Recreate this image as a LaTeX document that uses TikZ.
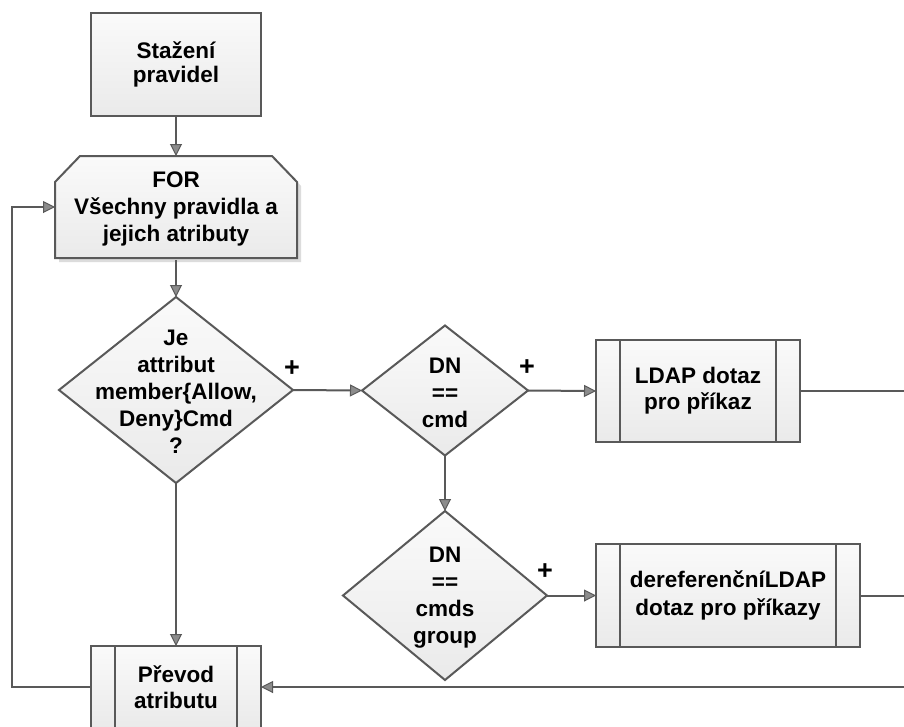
\documentclass[tikz,border=0pt]{standalone}
\usepackage{fontspec}
\setmainfont{Liberation Sans}
\usetikzlibrary{arrows.meta,shapes.geometric}

\definecolor{linegray}{HTML}{595959}
\definecolor{filltop}{HTML}{FAFAFA}
\definecolor{fillbot}{HTML}{EAEAEA}
\definecolor{tipfill}{HTML}{8C8C8C}
\definecolor{shadowgray}{HTML}{DCDCDC}

\tikzset{
  every node/.style={outer sep=0pt, inner sep=0pt, align=center,
    font=\bfseries\fontsize{22.5}{26}\selectfont},
  shaded/.style={draw=linegray, line width=2pt, top color=filltop, bottom color=fillbot},
  procbox/.style={shaded, rectangle},
  decision/.style={shaded, diamond},
  conn/.style={draw=linegray, line width=2pt},
  arr/.style={conn, -{Triangle[length=12pt,width=12pt,fill=tipfill,line width=1pt]}},
  plus/.style={font=\bfseries\fontsize{27}{27}\selectfont},
  dtext/.style={font=\bfseries\fontsize{22.5}{27}\selectfont, yshift=-2pt},
}

\begin{document}
\begin{tikzpicture}[x=1pt,y=-1pt]
  \path[use as bounding box, fill=white] (0,0) rectangle (904,726);

  % loop limit outline (chamfered top corners) with its shadow
  \fill[shadowgray, shift={(4,4)}]
    (55,258) -- (55,182) -- (80,156) -- (272,156) -- (297,182) -- (297,258) -- cycle;
  \shade[shaded]
    (55,258) -- (55,182) -- (80,156) -- (272,156) -- (297,182) -- (297,258) -- cycle;

  % nodes
  \node[procbox, minimum width=170pt, minimum height=103pt,
        font=\bfseries\fontsize{22.5}{23.5}\selectfont] (stazeni) at (176,64.5)
        {Sta\v{z}en\'{\i}\\pravidel};
  \node[minimum width=242pt, minimum height=102pt,
        font=\bfseries\fontsize{22.5}{27}\selectfont] (for) at (176,209)
        {FOR\\V\v{s}echny pravidla a\\jejich atributy};
  \node[decision, minimum width=234pt, minimum height=186pt,
        label={[dtext]center:{Je\\attribut\\member\{Allow,\\Deny\}Cmd\\?}}]
        (dia1) at (176,390) {};
  \node[decision, minimum width=166pt, minimum height=130pt,
        label={[dtext]center:{DN\\==\\cmd}}]
        (dia2) at (445,390.5) {};
  \node[decision, minimum width=204pt, minimum height=169pt,
        label={[dtext]center:{DN\\==\\cmds\\group}}]
        (dia3) at (445,595.5) {};
  \node[procbox, minimum width=204pt, minimum height=102pt] (ldap) at (698,391)
        {LDAP dotaz\\pro p\v{r}\'{\i}kaz};
  \node[procbox, minimum width=264pt, minimum height=103pt,
        font=\bfseries\fontsize{22.5}{28}\selectfont] (deref) at (728,595.5)
        {dereferen\v{c}n\'{\i}LDAP\\dotaz pro p\v{r}\'{\i}kazy};
  \node[procbox, minimum width=170pt, minimum height=82pt] (prevod) at (176,687)
        {P\v{r}evod\\atributu};

  % side bars of the predefined-process boxes
  \foreach \n in {ldap,deref,prevod}{
    \draw[conn] ([xshift=24pt]\n.north west) -- ([xshift=24pt]\n.south west);
    \draw[conn] ([xshift=-24pt]\n.north east) -- ([xshift=-24pt]\n.south east);
  }

  % free ends and bends of connectors
  \coordinate (ldapout) at (910,391);
  \coordinate (derefout) at (910,595.5);
  \coordinate (backin) at (910,687);
  \coordinate (loopbl) at (12,687);
  \coordinate (looptl) at (12,207);

  % connectors
  \draw[arr] (stazeni.south) -- ([yshift=2pt]for.north);
  \draw[arr] (for.south) -- (dia1.north);
  \draw[arr] (dia1.east) -- (dia2.west);
  \draw[arr] (dia2.east) -- (ldap.west);
  \draw[arr] (dia2.south) -- (dia3.north);
  \draw[arr] (dia3.east) -- (deref.west);
  \draw[arr] (dia1.south) -- (prevod.north);
  \draw[conn] (ldap.east) -- (ldapout);
  \draw[conn] (deref.east) -- (derefout);
  \draw[arr] (backin) -- (prevod.east);
  \draw[arr] (prevod.west) -- (loopbl) -- (looptl) -- (for.west |- looptl);

  % branch labels
  \node[plus] (p1) at (292,369) {+};
  \node[plus] (p2) at (527,368) {+};
  \node[plus] (p3) at (545,572) {+};
\end{tikzpicture}
\end{document}
